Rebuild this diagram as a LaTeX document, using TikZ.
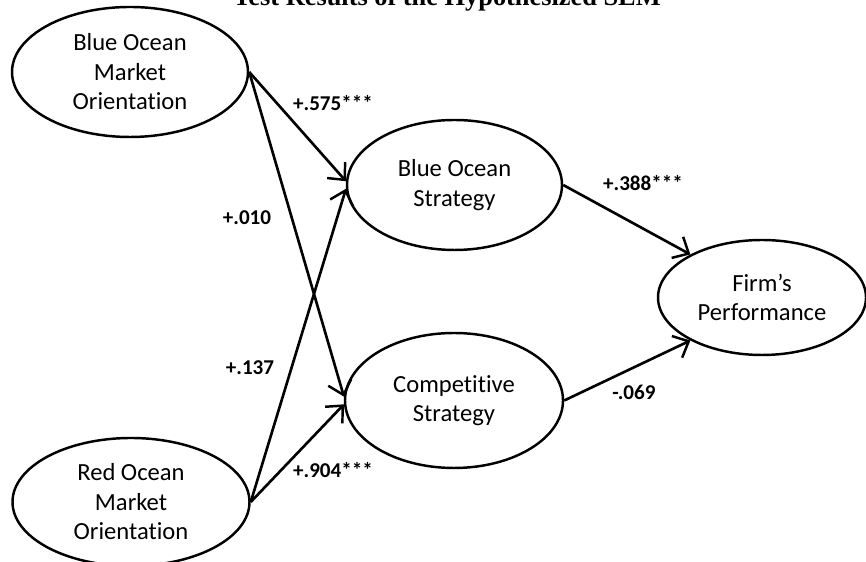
\documentclass[tikz,border=0pt]{standalone}
\usepackage{fontspec}
\setmainfont[Ligatures=NoCommon]{Carlito}
\newfontfamily\titlefont{Liberation Serif}
\usetikzlibrary{shapes.geometric,arrows.meta}
\tikzset{
  construct/.style={ellipse, draw, line width=1.4pt, inner sep=0pt, align=center,
    font=\fontsize{14}{16.8}\selectfont},
  path/.style={line width=1.5pt, -{Straight Barb[length=2.6mm,width=4.8mm,line width=1.4pt]}},
  coef/.style={font=\fontsize{12}{14}\selectfont\bfseries}
}
\begin{document}
\begin{tikzpicture}
  \useasboundingbox (0,0) rectangle (17.32,11.24);
  \node[anchor=base] (title) at (8.94,11.12) {\titlefont\fontsize{15}{18}\selectfont\bfseries Test Results of the Hypothesized SEM};
  % constructs
  \node[construct, minimum width=4.72cm, minimum height=2.60cm] (bomo) at (2.60,9.80) {Blue Ocean\\Market\\Orientation};
  \node[construct, minimum width=4.74cm, minimum height=2.56cm] (romo) at (2.62,1.20) {Red Ocean\\Market\\Orientation};
  \node[construct, minimum width=4.30cm, minimum height=2.60cm] (bos) at (9.09,7.54) {Blue Ocean\\Strategy};
  \node[construct, minimum width=4.36cm, minimum height=2.70cm] (cs) at (9.08,3.23) {Competitive\\Strategy};
  \node[construct, minimum width=4.16cm, minimum height=2.30cm] (fp) at (15.24,5.29) {Firm’s\\Performance};
  % paths
  \draw[path] (bomo.east) -- (bos.178);
  \draw[path] (bomo.east) -- (cs.178);
  \draw[path] (romo.east) -- (bos.182);
  \draw[path] (romo.east) -- (cs.182);
  \draw[path] (bos.east) -- (fp.149);
  \draw[path] (cs.east) -- (fp.211);
  % coefficients
  \node[coef] (c1) at (6.66,9.18) {+.575***};
  \node[coef] (c2) at (4.94,6.88) {+.010};
  \node[coef] (c3) at (5.00,3.88) {+.137};
  \node[coef] (c4) at (6.66,1.84) {+.904***};
  \node[coef] (c5) at (12.86,7.58) {+.388***};
  \node[coef] (c6) at (12.68,3.40) {-.069};
\end{tikzpicture}
\end{document}
